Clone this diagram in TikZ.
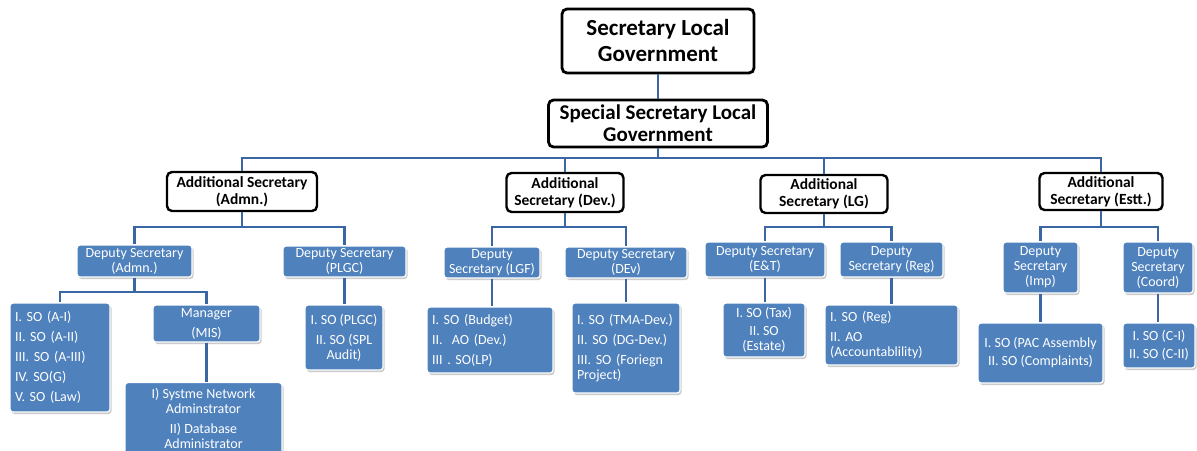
\documentclass[tikz,border=0pt]{standalone}
\usepackage{fontspec}
\setmainfont{Carlito}
\usepackage{xcolor}
\usepackage{tikz}
\usetikzlibrary{shadows}
\definecolor{boxblue}{HTML}{4F81BD}
\definecolor{linkblue}{HTML}{3A66A3}
\tikzset{
  link/.style={line width=2.9pt, draw=linkblue},
  chief/.style={draw=black, line width=2.8pt, rounded corners=5pt, fill=white, align=center, inner sep=1pt},
  head/.style={chief, line width=2.4pt, font=\fontsize{15.5}{17}\selectfont\bfseries},
  dep/.style={fill=boxblue, draw=white, line width=1.2pt, rounded corners=3pt, text=white, align=center,
    inner sep=2pt, font=\fontsize{14}{15}\selectfont,
    drop shadow={shadow xshift=1.5pt, shadow yshift=-2pt, fill=black!40, opacity=0.5}},
  unit/.style={dep, align=left, inner xsep=5pt}
}

\begin{document}
\begin{tikzpicture}[x=1pt, y=-1pt]
  \useasboundingbox (0,0) rectangle (1197,450);
  \fill[white] (0,0) rectangle (1197,450);

  % levels of the branch lines
  \coordinate (mid) at (0,158);
  \coordinate (low) at (0,227);
  \coordinate (bot) at (0,292);

  \node[chief, font=\fontsize{23}{26}\selectfont\bfseries, minimum width=192pt, minimum height=64pt] (sec) at (658,41) {Secretary Local\\Government};
  \node[chief, font=\fontsize{21}{22}\selectfont\bfseries, minimum width=219pt, minimum height=47pt] (spl) at (658,123.5) {Special Secretary Local\\Government};

  \node[head, minimum width=150pt, minimum height=39pt] (asAdm) at (242,191.5) {Additional Secretary\\(Admn.)};
  \node[head, minimum width=117pt, minimum height=39pt] (asDev) at (565,192.5) {Additional\\Secretary (Dev.)};
  \node[head, minimum width=127pt, minimum height=38pt] (asLG) at (824,194) {Additional\\Secretary (LG)};
  \node[head, minimum width=123pt, minimum height=37pt] (asEst) at (1101,191.5) {Additional\\Secretary (Estt.)};

  \node[dep, minimum width=115pt, minimum height=32pt] (dsAdm) at (134.5,261) {Deputy Secretary\\(Admn.)};
  \node[dep, minimum width=123pt, minimum height=31pt] (dsPlgc) at (344.5,261.5) {Deputy Secretary\\(PLGC)};
  \node[dep, minimum width=96pt, minimum height=31pt] (dsLgf) at (492,262.5) {Deputy\\Secretary (LGF)};
  \node[dep, minimum width=122pt, minimum height=31pt] (dsDev) at (626,262.5) {Deputy Secretary\\(DEv)};
  \node[dep, minimum width=120pt, minimum height=35pt] (dsEt) at (765,259.5) {Deputy Secretary\\(E\&T)};
  \node[dep, minimum width=103pt, minimum height=35pt] (dsReg) at (891.5,259.5) {Deputy\\Secretary (Reg)};
  \node[dep, minimum width=75pt, minimum height=51pt] (dsImp) at (1040.5,267.5) {Deputy\\Secretary\\(Imp)};
  \node[dep, minimum width=70pt, minimum height=51pt] (dsCoord) at (1158,267.5) {Deputy\\Secretary\\(Coord)};

  \node[unit, text width=90pt, minimum height=109pt] (soAdm) at (60,357.5)
    {I. SO (A-I)\\[5pt]II. SO (A-II)\\[5pt]III. SO (A-III)\\[5pt]IV. SO(G)\\[5pt]V. SO (Law)};
  \node[dep, minimum width=107pt, minimum height=37pt] (mis) at (206.5,323.5) {Manager\\[5pt](MIS)};
  \node[dep, anchor=north, minimum width=157pt, minimum height=72pt, inner ysep=1pt] (sna) at (203.5,382)
    {I) Systme Network\\Adminstrator\\[5pt]II) Database\\Administrator};
  \node[dep, minimum width=78pt, minimum height=65pt] (soPlgc) at (344,337.5) {I. SO (PLGC)\\[5pt]II. SO (SPL\\Audit)};
  \node[unit, text width=116pt, minimum height=66pt] (soBud) at (490,340)
    {I. SO (Budget)\\[5pt]II.~~AO (Dev.)\\[5pt]III . SO(LP)};
  \node[unit, text width=98pt, minimum height=90pt] (soTma) at (626,348)
    {I. SO (TMA-Dev.)\\[5pt]II. SO (DG-Dev.)\\[5pt]III. SO (Foriegn\\Project)};
  \node[dep, minimum width=82pt, minimum height=54pt] (soTax) at (764,330) {I. SO (Tax)\\[3pt]II. SO\\(Estate)};
  \node[unit, text width=123pt, minimum height=60pt] (soReg) at (891.5,335)
    {I. SO (Reg)\\[5pt]II. AO\\(Accountablility)};
  \node[dep, minimum width=125pt, minimum height=60pt] (soPac) at (1040.5,353) {I. SO (PAC Assembly\\[3pt]II. SO (Complaints)};
  \node[dep, minimum width=72pt, minimum height=45pt] (soC) at (1159,345.5) {I. SO (C-I)\\[3pt]II. SO (C-II)};

  % connectors
  \draw[link] (sec.south) -- (spl.north);
  \foreach \n in {asAdm,asDev,asLG,asEst}
    \draw[link] (spl.south) |- (mid -| \n.north) -- (\n.north);
  \foreach \a/\d in {asAdm/dsAdm, asAdm/dsPlgc, asDev/dsLgf, asDev/dsDev,
                     asLG/dsEt, asLG/dsReg, asEst/dsImp, asEst/dsCoord}
    \draw[link] (\a.south) |- (low -| \d.north) -- (\d.north);
  \foreach \s in {soAdm,mis}
    \draw[link] (dsAdm.south) |- (bot -| \s.north) -- (\s.north);
  \foreach \d/\s in {mis/sna, dsPlgc/soPlgc, dsLgf/soBud, dsDev/soTma,
                     dsEt/soTax, dsReg/soReg, dsImp/soPac, dsCoord/soC}
    \draw[link] (\d.south) -- (\d.south |- \s.north);
\end{tikzpicture}
\end{document}
